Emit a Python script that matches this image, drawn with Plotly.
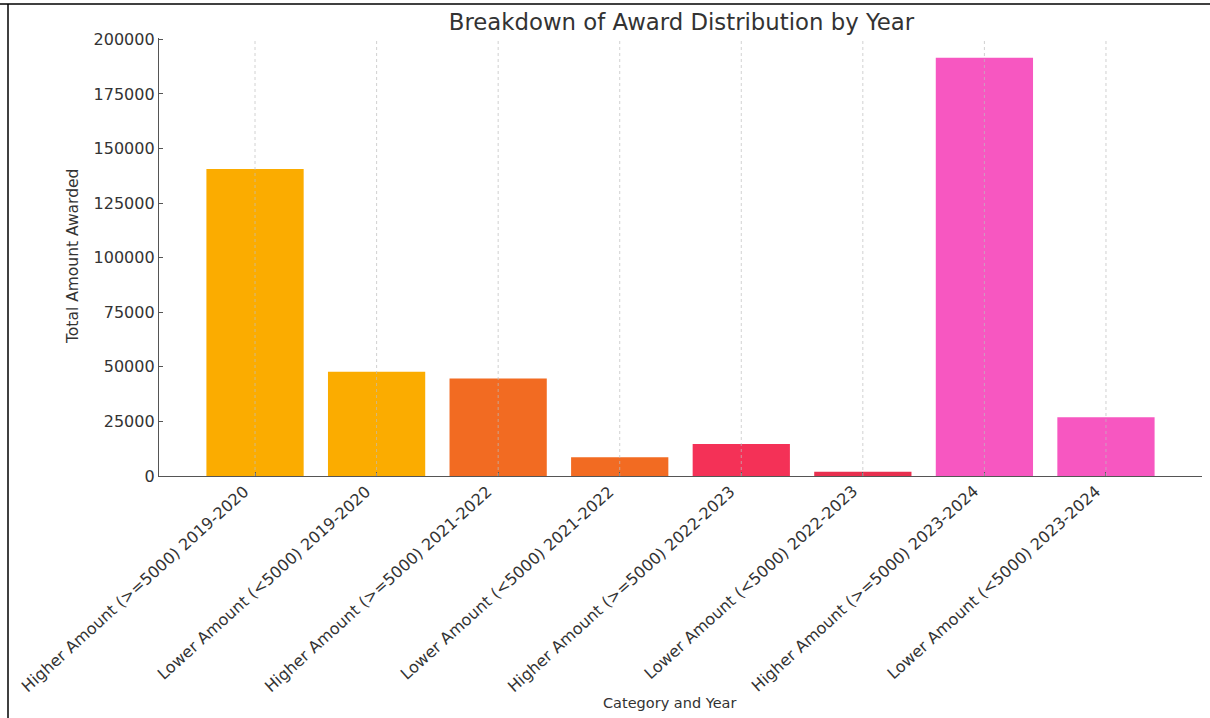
import plotly.graph_objects as go

categories = [
    "Higher Amount (>=5000) 2019-2020",
    "Lower Amount (<5000) 2019-2020",
    "Higher Amount (>=5000) 2021-2022",
    "Lower Amount (<5000) 2021-2022",
    "Higher Amount (>=5000) 2022-2023",
    "Lower Amount (<5000) 2022-2023",
    "Higher Amount (>=5000) 2023-2024",
    "Lower Amount (<5000) 2023-2024",
]
values = [140600, 47700, 44700, 8600, 14700, 1900, 191600, 26900]
colors = ["#FBAC00", "#FBAC00", "#F26B22", "#F26B22",
          "#F43157", "#E8304F", "#F757C1", "#F757C1"]
y_ticks = [0, 25000, 50000, 75000, 100000, 125000, 150000, 175000, 200000]

FONT = "DejaVu Sans"
W, H = 1210, 718
ML, MR, MT, MB = 159, 8, 38, 242
PW, PH = W - ML - MR, H - MT - MB

fig = go.Figure(go.Bar(x=categories, y=values, marker=dict(color=colors, line=dict(width=0)),
                       width=0.8))

# dashed vertical gridlines drawn over the bars
for c in categories:
    fig.add_shape(type="line", xref="x", yref="paper", x0=c, x1=c, y0=0, y1=1,
                  line=dict(color="rgba(190,190,190,0.7)", width=1, dash="dot"), layer="above")

# rotated category labels, anchored at their top-right corner under each tick
for c in categories:
    fig.add_annotation(text=c, xref="x", yref="paper", x=c, y=0, yshift=-3, xshift=1,
                       textangle=-42, xanchor="right", yanchor="top", showarrow=False,
                       font=dict(family=FONT, size=16, color="#333333"))

def px_x(p):
    return (p - ML) / PW

def px_y(p):
    return (H - MB - p) / PH

# outer frame lines (top and left)
fig.add_shape(type="line", xref="paper", yref="paper", x0=px_x(0), x1=px_x(W), y0=px_y(4), y1=px_y(4),
              line=dict(color="black", width=1.5))
fig.add_shape(type="line", xref="paper", yref="paper", x0=px_x(8), x1=px_x(8), y0=px_y(4), y1=px_y(H),
              line=dict(color="black", width=1.5))

fig.add_annotation(text="Category and Year", xref="paper", yref="paper", x=px_x(669), y=px_y(703),
                   showarrow=False, font=dict(family=FONT, size=14.5, color="#333333"),
                   xanchor="center", yanchor="middle")
fig.add_annotation(text="Total Amount Awarded", xref="paper", yref="paper", x=px_x(73), y=px_y(257),
                   showarrow=False, textangle=-90, font=dict(family=FONT, size=15.5, color="#333333"),
                   xanchor="center", yanchor="middle")

fig.update_layout(
    width=W, height=H,
    margin=dict(l=ML, r=MR, t=MT, b=MB, autoexpand=False),
    paper_bgcolor="white", plot_bgcolor="white",
    showlegend=False,
    title=dict(text="Breakdown of Award Distribution by Year", x=681.5 / W,
               xanchor="center", y=(H - 22) / H, yanchor="middle", yref="container",
               font=dict(family=FONT, size=22.8, color="#333333")),
    font=dict(family=FONT, color="#333333"),
    bargap=0.2,
)
fig.update_xaxes(
    range=[-0.79, 7.79], showgrid=False, showticklabels=False,
    showline=True, linecolor="#555555", linewidth=1.3,
    ticks="inside", ticklen=4, tickcolor="#555555",
    automargin=False,
)
fig.update_yaxes(
    range=[0, 200600], tickvals=y_ticks, ticktext=[str(v) for v in y_ticks],
    showgrid=False, zeroline=False,
    showline=True, linecolor="#555555", linewidth=1.3,
    ticks="inside", ticklen=4, tickcolor="#555555",
    tickfont=dict(family=FONT, size=16, color="#333333"),
    automargin=False,
)

fig.write_html("out.html", config={"displayModeBar": False},
               post_script="document.body.style.margin='0px';")
